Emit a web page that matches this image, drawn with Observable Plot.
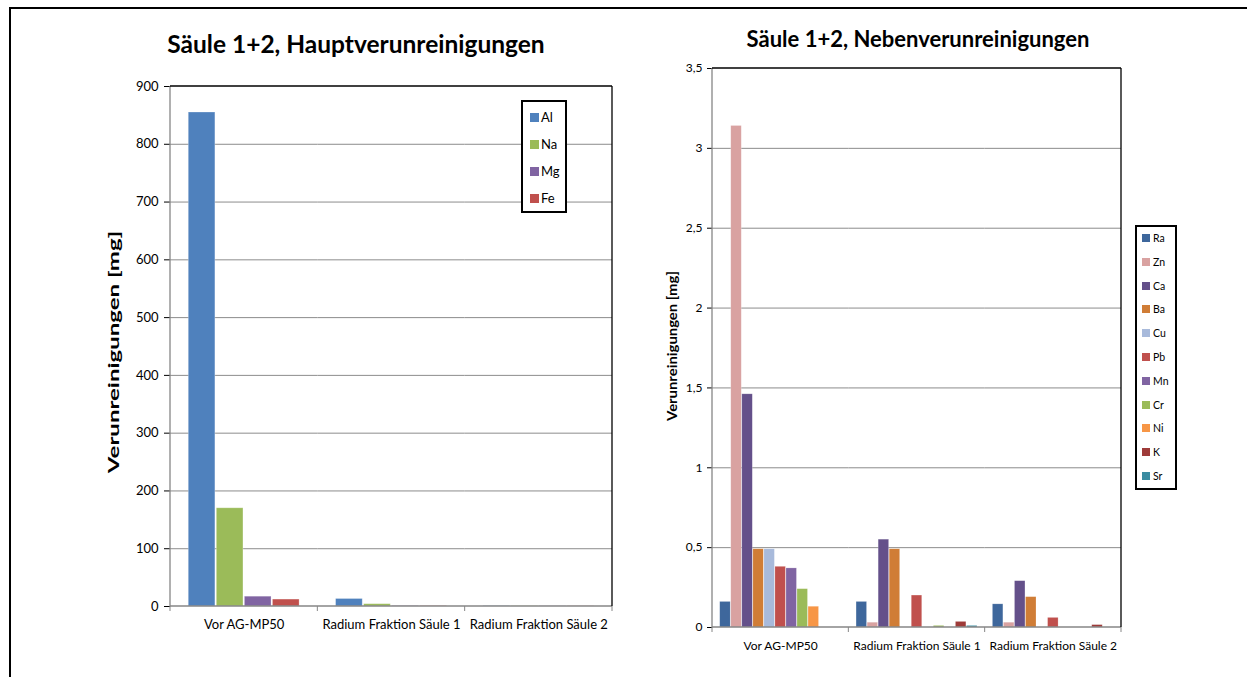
<!DOCTYPE html>
<html><head><meta charset="utf-8">
<script src="https://cdn.jsdelivr.net/npm/d3@7"></script>
<script src="https://cdn.jsdelivr.net/npm/@observablehq/plot@0.6"></script>
<style>
body{margin:0;background:#fff;font-family:Lato,"DejaVu Sans",sans-serif;color:#000;}
#page{position:relative;width:1247px;height:677px;overflow:hidden;background:#fff;}
#frame{position:absolute;left:9px;top:7px;width:1400px;height:800px;border-left:2.5px solid #000;border-top:2.5px solid #000;}
.abs{position:absolute;}
.title{font-weight:bold;text-align:center;white-space:nowrap;}
.ylab{font-weight:bold;white-space:nowrap;}
.legend{border:2px solid #000;background:#fff;box-sizing:border-box;}
.li{position:absolute;display:flex;align-items:center;white-space:nowrap;}
.sw{display:inline-block;}
svg [aria-label="y-axis tick"]{stroke:#868686;}
</style></head>
<body><div id="page"><div id="frame"></div></div>
<script>
// ---------- data ----------
const categories = ["Vor AG-MP50", "Radium Fraktion Säule 1", "Radium Fraktion Säule 2"];

const leftElements = ["Al", "Na", "Mg", "Fe"];
const leftColors = ["#4F81BD", "#9BBB59", "#8064A2", "#C0504D"];
const alValues = [855, 13, 0.5];
const naValues = [170, 4, 0.3];
const mgValues = [17, 0.8, 0.3];
const feValues = [12, 0.6, 0.3];
const leftTicks = [0, 100, 200, 300, 400, 500, 600, 700, 800, 900];

const rightElements = ["Ra", "Zn", "Ca", "Ba", "Cu", "Pb", "Mn", "Cr", "Ni", "K", "Sr"];
const rightColors = ["#3E679C", "#D9A2A1", "#64508A", "#D07D36", "#A8BADB", "#C0504D", "#8064A2", "#9BBB59", "#F79646", "#9E3B39", "#3A8CA1"];
const raValues = [0.16, 0.16, 0.145];
const znValues = [3.14, 0.03, 0.03];
const caValues = [1.46, 0.55, 0.29];
const baValues = [0.49, 0.49, 0.19];
const cuValues = [0.49, 0, 0];
const pbValues = [0.38, 0.20, 0.06];
const mnValues = [0.37, 0, 0];
const crValues = [0.24, 0.01, 0];
const niValues = [0.13, 0, 0];
const kValues = [0, 0.035, 0.015];
const srValues = [0, 0.01, 0];
const rightTicks = [0, 0.5, 1, 1.5, 2, 2.5, 3, 3.5];

const leftSeries = [alValues, naValues, mgValues, feValues];
const rightSeries = [raValues, znValues, caValues, baValues, cuValues, pbValues, mnValues, crValues, niValues, kValues, srValues];

const leftData = categories.flatMap((c, i) => leftElements.map((e, j) => ({cat: c, el: e, v: leftSeries[j][i]})));
const rightData = categories.flatMap((c, i) => rightElements.map((e, j) => ({cat: c, el: e, v: rightSeries[j][i]})));

const page = document.getElementById("page");

function decorate(plot, opts) {
  const svg = d3.select(plot);
  const fx = plot.scale("fx");
  const y = plot.scale("y");
  const x0 = fx.apply(categories[0]);
  const x1 = fx.apply(categories[categories.length - 1]) + fx.bandwidth;
  const yb = y.apply(opts.yMin), yt = y.apply(opts.yMax);
  const g = svg.append("g");
  const edges = categories.map(c => fx.apply(c)).concat([x1]);
  edges.forEach(e => g.append("line").attr("x1", e).attr("x2", e).attr("y1", yb).attr("y2", yb + 5).attr("stroke", "#868686"));
  g.append("line").attr("x1", x0).attr("x2", x0).attr("y1", yt).attr("y2", yb + 0.5).attr("stroke", "#868686").attr("stroke-width", 1.3);
  g.append("line").attr("x1", x0).attr("x2", x1).attr("y1", yb).attr("y2", yb).attr("stroke", "#868686").attr("stroke-width", 1.3);
  g.append("line").attr("x1", x1).attr("x2", x1).attr("y1", yt).attr("y2", yb).attr("stroke", "#000").attr("stroke-width", 1.3);
  g.append("line").attr("x1", x0).attr("x2", x1).attr("y1", yt).attr("y2", yt).attr("stroke", "#000").attr("stroke-width", 1.3);
}

// ---------- left chart ----------
const left = Plot.plot({
  width: 640, height: 660,
  marginLeft: 170, marginRight: 28, marginTop: 86, marginBottom: 54,
  style: {fontFamily: "Lato, sans-serif", fontSize: "13px", color: "#000", background: "transparent", overflow: "visible"},
  fx: {domain: categories, padding: 0, round: false, label: null, axis: "bottom", tickSize: 0, tickPadding: 13},
  x: {domain: leftElements, axis: null, round: false, paddingInner: 0.05, paddingOuter: 0.65},
  y: {domain: [0, 900], ticks: leftTicks, tickSize: 6, tickPadding: 6, label: null},
  color: {domain: leftElements, range: leftColors},
  marks: [
    Plot.ruleY(leftTicks.slice(1, -1), {stroke: "#8c8c8c"}),
    Plot.barY(leftData, {fx: "cat", x: "el", y: "v", fill: "el", stroke: "#fff", strokeOpacity: 0.35, strokeWidth: 0.8})
  ]
});
left.style.position = "absolute"; left.style.left = "0px"; left.style.top = "0px";
page.appendChild(left);
decorate(left, {yMin: 0, yMax: 900});

// ---------- right chart ----------
const fmt = d => String(d).replace(".", ",");
const right = Plot.plot({
  width: 607, height: 677,
  marginLeft: 72, marginRight: 126, marginTop: 68, marginBottom: 50,
  style: {fontFamily: "Lato, sans-serif", fontSize: "12px", color: "#000", background: "transparent", overflow: "visible"},
  fx: {domain: categories, padding: 0, round: false, label: null, axis: "bottom", tickSize: 0, tickPadding: 14},
  x: {domain: rightElements, axis: null, round: false, paddingInner: 0.05, paddingOuter: 0.7},
  y: {domain: [0, 3.5], ticks: rightTicks, tickFormat: fmt, tickSize: 5, tickPadding: 5, label: null},
  color: {domain: rightElements, range: rightColors},
  marks: [
    Plot.ruleY(rightTicks.slice(1, -1), {stroke: "#8c8c8c"}),
    Plot.barY(rightData, {fx: "cat", x: "el", y: "v", fill: "el", stroke: "#fff", strokeOpacity: 0.35, strokeWidth: 0.6})
  ]
});
right.style.position = "absolute"; right.style.left = "640px"; right.style.top = "0px";
page.appendChild(right);
decorate(right, {yMin: 0, yMax: 3.5});

// ---------- titles, labels, legends ----------
function addDiv(cls, css, text) {
  const d = document.createElement("div");
  d.className = "abs " + cls;
  Object.assign(d.style, css);
  if (text != null) d.textContent = text;
  page.appendChild(d);
  return d;
}
addDiv("title", {left: "156px", width: "400px", top: "29px", fontSize: "24.5px", lineHeight: "30px"}, "Säule 1+2, Hauptverunreinigungen");
addDiv("title", {left: "718px", width: "400px", top: "26px", fontSize: "22px", lineHeight: "26px"}, "Säule 1+2, Nebenverunreinigungen");
addDiv("ylab", {left: "113px", top: "352px", fontSize: "15px", transform: "translate(-50%,-50%) rotate(-90deg) scale(1.6,1)"}, "Verunreinigungen [mg]");
addDiv("ylab", {left: "672px", top: "346px", fontSize: "13.5px", transform: "translate(-50%,-50%) rotate(-90deg) scale(1.1,1)"}, "Verunreinigungen [mg]");

function legend(box, items, colors, o) {
  const lg = addDiv("legend", {left: box[0] + "px", top: box[1] + "px", width: box[2] + "px", height: box[3] + "px"});
  items.forEach((it, i) => {
    const row = document.createElement("div");
    row.className = "li";
    Object.assign(row.style, {left: o.x + "px", top: (o.y0 + i * o.dy - 8) + "px", height: "16px", fontSize: o.fs + "px"});
    const sw = document.createElement("span");
    sw.className = "sw";
    Object.assign(sw.style, {width: o.s + "px", height: o.s + "px", background: colors[i], marginRight: o.gap + "px"});
    row.appendChild(sw);
    row.appendChild(document.createTextNode(it));
    lg.appendChild(row);
  });
}
legend([521, 100, 46, 113], leftElements, leftColors, {x: 7, y0: 15, dy: 27, s: 9, gap: 2, fs: 13});
legend([1135, 225, 42, 265], rightElements, rightColors, {x: 5, y0: 11, dy: 23.8, s: 8, gap: 3, fs: 10.5});
</script>
</body></html>
